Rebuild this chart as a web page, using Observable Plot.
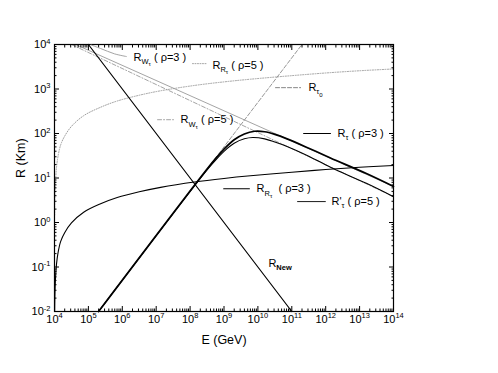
<!DOCTYPE html>
<html>
<head>
<meta charset="utf-8">
<script src="https://cdn.jsdelivr.net/npm/d3@7"></script>
<script src="https://cdn.jsdelivr.net/npm/@observablehq/plot@0.6"></script>
<style>
  html, body { margin: 0; padding: 0; background: #fff; overflow: hidden; }
  svg text { white-space: pre; }
</style>
</head>
<body>
<div id="chart"></div>
<script>
// ---- data (log10 values) ----
const xTickExp = [4, 5, 6, 7, 8, 9, 10, 11, 12, 13, 14];
const yTickExp = [-2, -1, 0, 1, 2, 3, 4];

// R_New
const newLogE = [5, 11];
const newLogR = [4, -2];
// R_tau0
const tau0LogE = [5.3, 11.3];
const tau0LogR = [-2, 4];
// R_tau (rho=3)
const tau3LogE = [5.3, 8.5, 8.8, 9.0, 9.3, 9.6, 9.9, 10.2, 10.5, 10.86, 11.5, 12.14, 13.2, 14];
const tau3LogR = [-2, 1.2, 1.48, 1.65, 1.86, 1.99, 2.05, 2.04, 1.98, 1.88, 1.67, 1.45, 1.1, 0.81];
// R'_tau (rho=5)
const tau5LogE = [5.3, 8.5, 8.8, 9.0, 9.3, 9.6, 9.85, 10.2, 10.5, 10.86, 11.5, 12.14, 13.2, 14];
const tau5LogR = [-2, 1.18, 1.44, 1.6, 1.78, 1.88, 1.91, 1.88, 1.81, 1.71, 1.49, 1.24, 0.88, 0.58];
// R_W_tau (rho=3), (rho=5)
const w3LogE = [4.62, 14];
const w3LogR = [4.0, 0.81];
const w5LogE = [4.5, 14];
const w5LogR = [4.0, 0.58];
// R_R_tau (rho=3) and (rho=5)
const rrLogE  = [4.005, 4.01, 4.03, 4.06, 4.1, 4.18, 4.3, 4.5, 4.86, 5.36, 5.85, 6.5, 7.13, 8.13, 9.0, 9.78, 11, 12, 13, 14];
const rr3LogR = [-2.0, -1.7, -1.25, -0.93, -0.7, -0.43, -0.23, -0.01, 0.23, 0.42, 0.56, 0.69, 0.79, 0.91, 0.99, 1.05, 1.13, 1.19, 1.24, 1.28];
const rr5LogR = [0.17, 0.47, 0.92, 1.24, 1.47, 1.74, 1.94, 2.16, 2.4, 2.59, 2.73, 2.86, 2.96, 3.08, 3.16, 3.22, 3.3, 3.36, 3.41, 3.45];

const pts = (le, lr) => le.map((e, i) => ({E: 10 ** e, R: 10 ** lr[i]}));

// ---- legend / annotation layout (log10 data coordinates) ----
const legend = [
  {text: "R_{W_{τ}} ( ρ=3 )", at: [6.33, 3.71], seg: [[5.08, 3.99], [5.36, 3.91], [5.77, 3.79], [6.12, 3.73]], stroke: "#9a9a9a", w: 0.9, dash: null},
  {text: "R_{R_{τ}} ( ρ=5 )", at: [8.66, 3.53], seg: [[8.07, 3.57], [8.51, 3.57]], stroke: "#9a9a9a", w: 0.9, dash: "1,1.5"},
  {text: "R_{τ_{0}}", at: [11.49, 3.03], seg: [[10.52, 3.03], [11.26, 3.03]], stroke: "#777", w: 0.9, dash: "4,2"},
  {text: "R_{W_{τ}} ( ρ=5 )", at: [7.72, 2.31], seg: [[7.04, 2.31], [7.51, 2.31]], stroke: "#9a9a9a", w: 0.9, dash: "4,2,1,2"},
  {text: "R_{τ} ( ρ=3 )", at: [12.35, 2.0], seg: [[11.35, 2.0], [12.14, 2.0]], stroke: "#000", w: 1.2, dash: null},
  {text: "R_{R_{τ}}  ( ρ=3 )", at: [9.96, 0.76], seg: [[8.99, 0.76], [9.75, 0.76]], stroke: "#000", w: 1.1, dash: null},
  {text: "R'_{τ} ( ρ=5 )", at: [12.17, 0.47], seg: [[11.17, 0.47], [11.99, 0.47]], stroke: "#000", w: 0.9, dash: null},
  {text: "R_{New}", at: [10.31, -0.92], seg: null}
];

const xMinor = [], yMinor = [];
for (let d = 4; d < 14; d++) for (let k = 2; k <= 9; k++) xMinor.push(k * 10 ** d);
for (let d = -2; d < 4; d++) for (let k = 2; k <= 9; k++) yMinor.push(k * 10 ** d);

const line = (data, o) => Plot.line(data, {x: "E", y: "R", ...o});

const marks = [
  line(pts(rrLogE, rr5LogR), {stroke: "#a0a0a0", strokeWidth: 1, strokeDasharray: "1,1.5", curve: "catmull-rom"}),
  line(pts(w3LogE, w3LogR), {stroke: "#9a9a9a", strokeWidth: 0.9}),
  line(pts(w5LogE, w5LogR), {stroke: "#9a9a9a", strokeWidth: 0.9, strokeDasharray: "4,2,1,2"}),
  line(pts(tau0LogE, tau0LogR), {stroke: "#8a8a8a", strokeWidth: 0.9, strokeDasharray: "4,2"}),
  line(pts(newLogE, newLogR), {stroke: "#000", strokeWidth: 1.2}),
  line(pts(rrLogE, rr3LogR), {stroke: "#000", strokeWidth: 1.1, curve: "catmull-rom"}),
  line(pts(tau5LogE, tau5LogR), {stroke: "#000", strokeWidth: 1.1, curve: "catmull-rom"}),
  line(pts(tau3LogE, tau3LogR), {stroke: "#000", strokeWidth: 1.7, curve: "catmull-rom"}),
  Plot.frame({stroke: "#000", strokeWidth: 1.2}),
  Plot.axisX(xTickExp.map(d => 10 ** d), {anchor: "bottom", tickSize: -5, tickFormat: () => "", label: null}),
  Plot.axisX(xTickExp.map(d => 10 ** d), {anchor: "top", tickSize: -5, tickFormat: () => "", label: null}),
  Plot.axisX(xMinor, {anchor: "bottom", tickSize: -2.5, tickFormat: () => "", label: null}),
  Plot.axisX(xMinor, {anchor: "top", tickSize: -2.5, tickFormat: () => "", label: null}),
  Plot.axisY(yTickExp.map(d => 10 ** d), {anchor: "left", tickSize: -5, tickFormat: () => "", label: null}),
  Plot.axisY(yTickExp.map(d => 10 ** d), {anchor: "right", tickSize: -5, tickFormat: () => "", label: null}),
  Plot.axisY(yMinor, {anchor: "left", tickSize: -2.5, tickFormat: () => "", label: null}),
  Plot.axisY(yMinor, {anchor: "right", tickSize: -2.5, tickFormat: () => "", label: null}),
  Plot.text(xTickExp, {x: d => 10 ** d, frameAnchor: "bottom", dy: 11, text: d => `10^{${d}}`, fontSize: 11}),
  Plot.text(yTickExp, {y: d => 10 ** d, frameAnchor: "left", dx: -4, textAnchor: "end", text: d => `10^{${d}}`, fontSize: 11}),
  Plot.text(["R (Km)"], {frameAnchor: "left", dx: -34, rotate: -90, text: d => d, fontSize: 12.5}),
  Plot.text(["E (GeV)"], {frameAnchor: "bottom", dy: 32, text: d => d, fontSize: 12.5})
];

for (const it of legend) {
  if (it.seg) marks.push(Plot.line(it.seg, {x: d => 10 ** d[0], y: d => 10 ** d[1], stroke: it.stroke, strokeWidth: it.w, strokeDasharray: it.dash, curve: "catmull-rom"}));
  marks.push(Plot.text([it], {x: d => 10 ** d.at[0], y: d => 10 ** d.at[1], text: d => d.text, textAnchor: "start", fontSize: 11}));
}

const chart = Plot.plot({
  width: 498, height: 373,
  marginLeft: 54, marginRight: 105, marginTop: 44, marginBottom: 62,
  style: {fontFamily: "'Liberation Sans', Arial, sans-serif", fontSize: "11px", background: "#fff", color: "#000"},
  x: {type: "log", domain: [1e4, 1e14]},
  y: {type: "log", domain: [1e-2, 1e4]},
  marks
});
document.getElementById("chart").appendChild(chart);

// render _{...} and ^{...} as sub/superscript tspans
function rich(svg) {
  svg.querySelectorAll("text").forEach(t => {
    const s = t.textContent;
    if (!/[_^]\{/.test(s)) return;
    const base = parseFloat(getComputedStyle(t).fontSize) || 11;
    const runs = []; const stack = [0]; let buf = "";
    const flush = () => { if (buf) runs.push({s: buf, L: stack[stack.length - 1]}); buf = ""; };
    for (let i = 0; i < s.length; i++) {
      const c = s[i];
      if ((c === "_" || c === "^") && s[i + 1] === "{") { flush(); stack.push(stack[stack.length - 1] + (c === "_" ? -1 : 1)); i++; }
      else if (c === "}") { flush(); stack.pop(); }
      else buf += c;
    }
    flush();
    const off = L => L === 0 ? 0 : L === 1 ? -0.4 * base : L === -1 ? 0.3 * base : 0.5 * base;
    const size = L => L === 0 ? base : Math.abs(L) === 1 ? 0.68 * base : 0.55 * base;
    while (t.firstChild) t.removeChild(t.firstChild);
    let prev = 0;
    for (const r of runs) {
      const ts = document.createElementNS("http://www.w3.org/2000/svg", "tspan");
      const o = off(r.L);
      ts.setAttribute("dy", (o - prev).toFixed(2));
      ts.setAttribute("font-size", size(r.L));
      if (r.s === "New") ts.setAttribute("font-weight", "bold");
      ts.textContent = r.s;
      t.appendChild(ts);
      prev = o;
    }
  });
}
rich(chart);
</script>
</body>
</html>
